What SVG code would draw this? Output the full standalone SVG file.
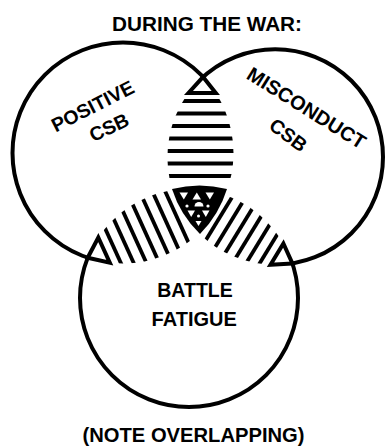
<svg xmlns="http://www.w3.org/2000/svg" width="388" height="446" viewBox="0 0 388 446">
<style>
  text { font-family: "Liberation Sans", Arial, sans-serif; font-weight: bold; fill: #000; }
  .outline { fill: none; stroke: #000; stroke-width: 4; }
  .tri { fill: #fff; stroke: #000; stroke-width: 4; stroke-linejoin: miter; }
  .hatch line { stroke: #000; stroke-width: 3.8; }
</style>
<defs>
  <clipPath id="cL"><circle cx="123" cy="153" r="110.5"/></clipPath>
  <clipPath id="cR"><circle cx="275.2" cy="157" r="107.8"/></clipPath>
  <clipPath id="cB"><circle cx="189" cy="298" r="109"/></clipPath>
  <mask id="mL" maskUnits="userSpaceOnUse" x="0" y="0" width="388" height="446">
    <rect width="388" height="446" fill="#fff"/>
    <circle cx="275.2" cy="157" r="107.8" fill="#000"/>
    <circle cx="189" cy="298" r="109" fill="#000"/>
  </mask>
  <mask id="mR" maskUnits="userSpaceOnUse" x="0" y="0" width="388" height="446">
    <rect width="388" height="446" fill="#fff"/>
    <circle cx="123" cy="153" r="110.5" fill="#000"/>
    <circle cx="189" cy="298" r="109" fill="#000"/>
  </mask>
  <mask id="mB" maskUnits="userSpaceOnUse" x="0" y="0" width="388" height="446">
    <rect width="388" height="446" fill="#fff"/>
    <circle cx="123" cy="153" r="110.5" fill="#000"/>
    <circle cx="275.2" cy="157" r="107.8" fill="#000"/>
  </mask>
</defs>
<rect width="388" height="446" fill="#fff"/>

<text x="207" y="31" text-anchor="middle" font-size="20" textLength="190" lengthAdjust="spacingAndGlyphs">DURING THE WAR:</text>

<g id="positive-csb">
  <circle class="outline" cx="123" cy="153" r="110.5" mask="url(#mL)"/>
  <text font-size="19.5" text-anchor="middle" transform="translate(95.7,112.2) rotate(-27)">POSITIVE</text>
  <text font-size="19.5" text-anchor="middle" transform="translate(111.8,133.6) rotate(-25)">CSB</text>
</g>

<g id="misconduct-csb">
  <circle class="outline" cx="275.2" cy="157" r="107.8" mask="url(#mR)"/>
  <text font-size="20" text-anchor="middle" transform="translate(302.8,113.9) rotate(32)">MISCONDUCT</text>
  <text font-size="19.5" text-anchor="middle" transform="translate(284.2,140.5) rotate(37)">CSB</text>
</g>

<g id="battle-fatigue">
  <circle class="outline" cx="189" cy="298" r="109" mask="url(#mB)"/>
  <text x="195" y="296.5" text-anchor="middle" font-size="19.5">BATTLE</text>
  <text x="194.2" y="326" text-anchor="middle" font-size="20">FATIGUE</text>
</g>

<g id="overlaps">
  <!-- positive + misconduct: horizontal hatch -->
  <g clip-path="url(#cL)"><g clip-path="url(#cR)" class="hatch">
    <line x1="150" y1="101" x2="260" y2="101"/>
    <line x1="150" y1="113.5" x2="260" y2="113.5"/>
    <line x1="150" y1="126" x2="260" y2="126"/>
    <line x1="150" y1="138.5" x2="260" y2="138.5"/>
    <line x1="150" y1="151" x2="260" y2="151"/>
    <line x1="150" y1="163.5" x2="260" y2="163.5"/>
    <line x1="150" y1="176" x2="260" y2="176"/>
  </g></g>
  <!-- positive + battle fatigue -->
  <g clip-path="url(#cL)"><g clip-path="url(#cB)"><g class="hatch" transform="translate(87.7,257.7) rotate(-24.46)">
    <line x1="28" y1="-70" x2="28" y2="70"/>
    <line x1="39.7" y1="-70" x2="39.7" y2="70"/>
    <line x1="51.3" y1="-70" x2="51.3" y2="70"/>
    <line x1="63" y1="-70" x2="63" y2="70"/>
    <line x1="74.7" y1="-70" x2="74.7" y2="70"/>
    <line x1="86.3" y1="-70" x2="86.3" y2="70"/>
    <line x1="98" y1="-70" x2="98" y2="70"/>
  </g></g></g>
  <!-- misconduct + battle fatigue -->
  <g clip-path="url(#cR)"><g clip-path="url(#cB)"><g class="hatch" transform="translate(292.4,263.4) rotate(-148.6)">
    <line x1="28" y1="-70" x2="28" y2="70"/>
    <line x1="39.6" y1="-70" x2="39.6" y2="70"/>
    <line x1="51.2" y1="-70" x2="51.2" y2="70"/>
    <line x1="62.8" y1="-70" x2="62.8" y2="70"/>
    <line x1="74.4" y1="-70" x2="74.4" y2="70"/>
    <line x1="86" y1="-70" x2="86" y2="70"/>
  </g></g></g>

  <!-- tip triangles -->
  <polygon class="tri" points="203.1,76.9 215.8,93 188.5,93"/>
  <polygon class="tri" points="87.7,257.7 109.8,262.7 98.3,237.5"/>
  <polygon class="tri" points="292.4,263.4 270.5,264.7 283.4,243.5"/>

  <!-- triple overlap -->
  <path d="M172,189 A109,109 0 0,1 227,189 A110.5,110.5 0 0,1 200,234 A107.8,107.8 0 0,1 172,189 Z" fill="#000"/>
  <g fill="#fff">
    <polygon points="179.5,192.5 188,192.5 183.8,199.5"/>
    <polygon points="192.5,199.5 201,199.5 196.8,192.5"/>
    <polygon points="205.5,192.5 214,192.5 209.8,199.5"/>
    <path d="M194.5,206.5 A4.5,4.5 0 0,1 203.5,206.5 Z"/>
    <circle cx="187" cy="206" r="1.6"/>
    <circle cx="208" cy="206" r="1.6"/>
    <polygon points="187.5,210.5 195,210.5 191.2,217"/>
    <polygon points="202,210.5 209.5,210.5 205.8,217"/>
    <circle cx="198.5" cy="216" r="1.5"/>
    <polygon points="195.5,221 201.5,221 198.5,226"/>
  </g>
</g>

<text x="193.5" y="441.5" text-anchor="middle" font-size="19.5" textLength="222" lengthAdjust="spacingAndGlyphs">(NOTE OVERLAPPING)</text>
</svg>
